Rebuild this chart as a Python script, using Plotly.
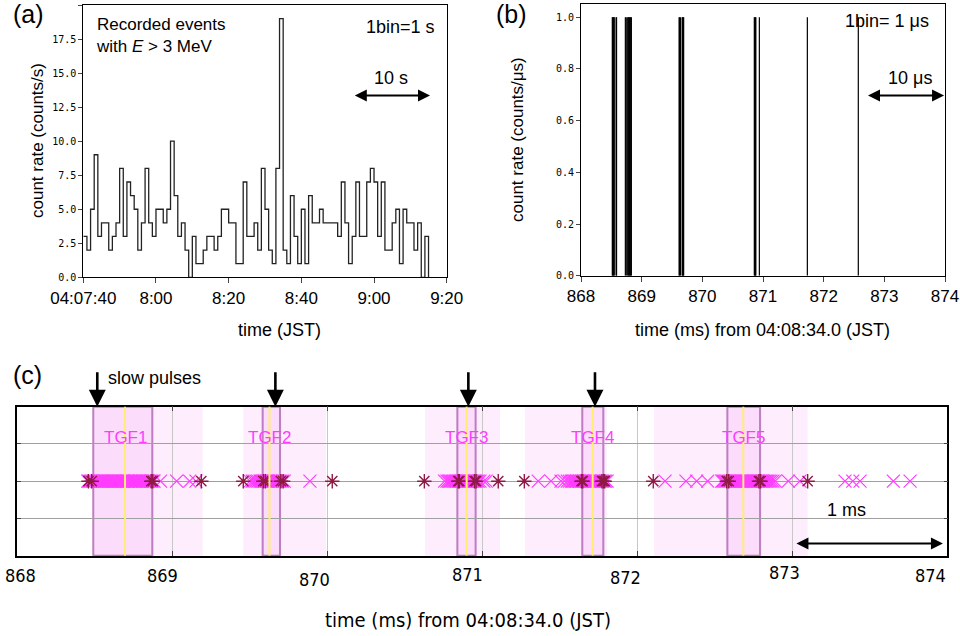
import plotly.graph_objects as go

W, H = 960, 636

# ---------------- data ----------------
# (a) 1-s bins starting at 04:07:40 (seconds offset), counts per bin
a_counts = [3, 2, 5, 9, 3, 4, 4, 2, 3, 4, 8, 3, 7, 6, 5, 2, 4, 8, 4, 3,
            5, 5, 4, 5, 10, 6, 3, 4, 2, 0, 3, 1, 1, 2, 3, 3, 2, 3, 5, 5,
            4, 4, 1, 1, 7, 3, 3, 4, 2, 8, 5, 2, 1, 8, 19, 2, 1, 6, 3, 1,
            5, 1, 6, 4, 4, 5, 4, 4, 4, 4, 3, 7, 4, 1, 3, 7, 3, 3, 7, 8,
            7, 3, 7, 2, 2, 4, 5, 1, 5, 4, 4, 2, 4, 0, 3]
a_tickvals = [0, 20, 40, 60, 80, 100]
a_ticktext = ["04:07:40", "8:00", "8:20", "8:40", "9:00", "9:20"]

# (b) 1-us bins with one count (time in ms from 04:08:34.0)
b_events = [868.516, 868.524, 868.532, 868.540, 868.548, 868.578, 868.586,
            868.731, 868.746, 868.770, 868.780, 868.790, 868.800, 868.810,
            868.820, 868.830, 869.617, 869.625, 869.640, 869.668, 869.676,
            869.684, 869.692, 870.857, 870.866, 870.874, 870.882, 870.940,
            871.731, 872.571]

# (c) recorded events (ms)
c_x_events = [
    868.455, 868.462, 868.470, 868.478, 868.487, 868.493, 868.501, 868.512,
    868.518, 868.527, 868.536, 868.541, 868.552, 868.560, 868.566, 868.577,
    868.585, 868.592, 868.603, 868.611, 868.619, 868.628, 868.634, 868.645,
    868.652, 868.661, 868.670, 868.678, 868.686, 868.693, 868.704, 868.712,
    868.719, 868.731, 868.738, 868.746, 868.757, 868.763, 868.772, 868.781,
    868.790, 868.798, 868.806, 868.817, 868.824, 868.833, 868.842, 868.850,
    868.859, 868.866, 868.875, 868.882, 868.924, 869.028, 869.112, 869.153,
    869.501, 869.516, 869.528, 869.540, 869.552, 869.566, 869.573, 869.581,
    869.590, 869.597, 869.606, 869.614, 869.622, 869.633, 869.641, 869.650,
    869.657, 869.668, 869.675, 869.684, 869.692, 869.701, 869.712, 869.722,
    869.888,
    870.757, 870.772, 870.782, 870.790, 870.797, 870.806, 870.814, 870.823,
    870.830, 870.838, 870.847, 870.855, 870.864, 870.871, 870.880, 870.889,
    870.897, 870.905, 870.914, 870.922, 870.931, 870.939, 870.948, 870.956,
    870.965, 870.974, 870.985, 871.010, 871.025,
    871.361, 871.443, 871.508, 871.530, 871.548, 871.562, 871.575, 871.585,
    871.594, 871.603, 871.611, 871.620, 871.628, 871.637, 871.646, 871.655,
    871.663, 871.672, 871.680, 871.690, 871.698, 871.707, 871.716, 871.724,
    871.733, 871.742, 871.750, 871.759, 871.768, 871.776, 871.786, 871.795,
    871.805,
    872.179, 872.314, 872.383, 872.454, 872.545, 872.553, 872.561, 872.570,
    872.578, 872.587, 872.595, 872.604, 872.612, 872.621, 872.629, 872.638,
    872.646, 872.655, 872.663, 872.672, 872.680, 872.689, 872.697, 872.706,
    872.714, 872.723, 872.731, 872.740, 872.748, 872.757, 872.765, 872.774,
    872.782, 872.791, 872.799, 872.808, 872.816, 872.825, 872.833, 872.842,
    872.851, 872.862, 872.875, 872.890, 872.974, 873.049, 873.340, 873.390,
    873.437, 873.652, 873.760]
c_star_events = [868.459, 868.480, 868.864, 868.874, 869.187,
                 869.458, 869.587, 869.600, 869.700, 869.715, 870.032,
                 870.626, 870.845, 870.852, 870.950, 870.960, 871.103,
                 871.271, 871.640, 871.648, 871.772, 871.782, 871.790,
                 872.103, 872.577, 872.590, 872.785, 872.795, 873.099]

tgf_labels = ["TGF1", "TGF2", "TGF3", "TGF4", "TGF5"]
tgf_peak = [868.695, 869.627, 870.899, 871.712, 872.684]
tgf_box_start = [868.490, 869.583, 870.839, 871.645, 872.581]
tgf_box_end = [868.871, 869.695, 870.957, 871.781, 872.792]
tgf_wide_start = [868.490, 869.458, 870.630, 871.276, 872.108]
tgf_wide_end = [869.196, 869.992, 871.114, 871.803, 873.099]
slow_pulses = [868.516, 869.665, 870.910, 871.727]

c_tickvals = [868, 869, 870, 871, 872, 873, 874]
c_ticktext = ["868", "869", "870", "871", "872", "873", "874"]

# ---------------- style ----------------
FONT = "Liberation Sans, Arial, Helvetica, sans-serif"
NARROW = "DejaVu Sans Condensed, sans-serif"
SMALL = "DejaVu Sans Mono, monospace"
MAG = "#ff3cff"
DARK = "#8e1a44"
c_label_xshift = [3, -10, -13, -15, -12, -8, -17]
c_label_yshift = [0, 0, -4, 1, -2, 3, 0]


def px(xp):
    return xp / W


def py(yp):
    return 1 - yp / H


fig = go.Figure()

# (a) histogram as step line
a_x = list(range(len(a_counts) + 1))
a_y = a_counts + [0]
fig.add_trace(go.Scatter(x=a_x, y=a_y, mode="lines", line_shape="hv",
                         line=dict(color="#222", width=1.3),
                         xaxis="x", yaxis="y", showlegend=False,
                         hoverinfo="skip"))

# (b) vertical one-count bins
bx, by = [], []
for t in b_events:
    bx += [t, t, None]
    by += [0, 1, None]
fig.add_trace(go.Scatter(x=bx, y=by, mode="lines",
                         line=dict(color="black", width=1.2),
                         xaxis="x2", yaxis="y2", showlegend=False,
                         hoverinfo="skip"))

# (c) events
fig.add_trace(go.Scatter(x=c_x_events, y=[0] * len(c_x_events), mode="markers",
                         marker=dict(symbol="x-thin-open", size=13, color=MAG,
                                     line=dict(width=1.2, color=MAG)),
                         xaxis="x3", yaxis="y3", showlegend=False,
                         hoverinfo="skip"))
fig.add_trace(go.Scatter(x=c_star_events, y=[0] * len(c_star_events),
                         mode="markers",
                         marker=dict(symbol="asterisk-open", size=12, color=DARK,
                                     line=dict(width=1.4, color=DARK)),
                         xaxis="x3", yaxis="y3", showlegend=False,
                         hoverinfo="skip"))

shapes = []
for s, e in zip(tgf_wide_start, tgf_wide_end):
    shapes.append(dict(type="rect", xref="x3", yref="y3 domain", x0=s, x1=e,
                       y0=0, y1=1, fillcolor="#fdedfd", line=dict(width=0),
                       layer="below"))
for s, e in zip(tgf_box_start, tgf_box_end):
    shapes.append(dict(type="rect", xref="x3", yref="y3 domain", x0=s, x1=e,
                       y0=0, y1=1, fillcolor="#fbdcfb",
                       line=dict(width=2, color="rgba(170,90,175,0.75)"),
                       layer="below"))
for p in tgf_peak:
    shapes.append(dict(type="line", xref="x3", yref="y3 domain", x0=p, x1=p,
                       y0=0, y1=1, line=dict(width=2, color="#ffee70"),
                       layer="above"))

ann = []


def text(t, x, y, size=18, xanchor="center", yanchor="middle", color="black",
         font=FONT, **kw):
    ann.append(dict(text=t, x=px(x), y=py(y), xref="paper", yref="paper",
                    showarrow=False, xanchor=xanchor, yanchor=yanchor,
                    font=dict(size=size, color=color, family=font), **kw))


text("(a)", 11, 14, size=25, xanchor="left")
text("(b)", 494, 14, size=25, xanchor="left")
text("(c)", 11, 375, size=25, xanchor="left")

text("Recorded events<br>with <i>E</i> > 3 MeV", 94, 13, size=17,
     xanchor="left", yanchor="top", align="left")
text("1bin=1 s", 437, 27, size=18, xanchor="right")
text("10 s", 391, 78, size=18)
text("1bin= 1 μs", 931, 21, size=18, xanchor="right")
text("10 μs", 910, 78, size=18)
text("slow pulses", 106, 378, size=18, xanchor="left")
text("1 ms", 846, 510, size=18)

text("count rate (counts/s)", 37, 141, size=17, textangle=-90)
text("time (JST)", 279, 330, size=18)
text("count rate (counts/μs)", 518, 140, size=17, textangle=-90)
text("time (ms) from 04:08:34.0 (JST)", 762, 330, size=18)
text("time (ms) from 04:08:34.0 (JST)", 468, 620, size=20, font=NARROW)

# panel (c) tick labels (hand-placed in the original figure)
for v, t, dx, dy in zip(c_tickvals, c_ticktext, c_label_xshift, c_label_yshift):
    ann.append(dict(x=v, y=0, xref="x3", yref="y3 domain", text=t,
                    showarrow=False, xanchor="center", yanchor="middle",
                    xshift=dx, yshift=-20 + dy,
                    font=dict(size=18, family=NARROW, color="black")))

# double-headed scale arrows
ann.append(dict(x=95.4, y=13.35, ax=74.3, ay=13.35, xref="x", yref="y",
                axref="x", ayref="y", text="", showarrow=True,
                arrowhead=2, startarrowhead=2, arrowside="end+start",
                arrowwidth=2, arrowsize=1.2, arrowcolor="black"))
ann.append(dict(x=873.985, y=0.697, ax=872.706, ay=0.697, xref="x2", yref="y2",
                axref="x2", ayref="y2", text="", showarrow=True,
                arrowhead=2, startarrowhead=2, arrowside="end+start",
                arrowwidth=2, arrowsize=1.2, arrowcolor="black"))
ann.append(dict(x=873.972, y=-1.67, ax=873.017, ay=-1.67, xref="x3", yref="y3",
                axref="x3", ayref="y3", text="", showarrow=True,
                arrowhead=2, startarrowhead=2, arrowside="end+start",
                arrowwidth=2, arrowsize=1.2, arrowcolor="black"))

# slow pulse arrows
for t in slow_pulses:
    ann.append(dict(x=t, y=1, xref="x3", yref="y3 domain", text="",
                    showarrow=True, ax=0, ay=-36, arrowhead=2, arrowsize=1.3,
                    arrowwidth=2.6, arrowcolor="black", standoff=0))

# TGF labels
for lab, p in zip(tgf_labels, tgf_peak):
    ann.append(dict(x=p, y=0.87, xref="x3", yref="y3 domain", text=lab,
                    showarrow=False, font=dict(size=17, color=MAG, family=FONT)))

ax_common = dict(showline=True, linecolor="black", linewidth=1, mirror=True,
                 zeroline=False, showgrid=False, automargin=False)

fig.update_layout(
    width=W, height=H, margin=dict(l=0, r=0, t=0, b=0, autoexpand=False),
    paper_bgcolor="white", plot_bgcolor="white", showlegend=False,
    xaxis=dict(domain=[px(83.3), px(446.7)], range=[0, 100],
               tickvals=a_tickvals, ticktext=a_ticktext, ticks="outside",
               ticklen=5, tickfont=dict(size=17, family=FONT, color="black"),
               ticklabeloverflow="allow",
               anchor="y", **ax_common),
    yaxis=dict(domain=[py(277.3), py(5)], range=[0, 20],
               tick0=0, dtick=2.5, tickformat=".1f", ticks="outside", ticklen=4,
               tickfont=dict(size=10, family=SMALL, color="black"),
               anchor="x", **ax_common),
    xaxis2=dict(domain=[px(581), px(945)], range=[868, 874], dtick=1,
                ticks="outside", ticklen=5, ticklabeloverflow="allow",
                tickfont=dict(size=17, family=FONT, color="black"),
                anchor="y2", **ax_common),
    yaxis2=dict(domain=[py(275.7), py(4.3)], range=[0, 1.05], tick0=0,
                dtick=0.2, tickformat=".1f", ticks="outside", ticklen=4,
                tickfont=dict(size=10, family=SMALL, color="black"),
                anchor="x2", **ax_common),
    xaxis3=dict(domain=[px(17.3), px(947.3)], range=[868, 874],
                tickvals=c_tickvals, showticklabels=False, ticks="inside",
                ticklen=5, tickcolor="#444", showline=True, linecolor="black",
                linewidth=1.5, mirror="ticks", zeroline=False,
                showgrid=True, gridcolor="#c8c8c8", gridwidth=1,
                automargin=False, anchor="y3"),
    yaxis3=dict(domain=[py(555.7), py(406.7)], range=[-2, 2],
                tickvals=[-1, 0, 1], showticklabels=False, ticks="inside",
                ticklen=4, tickcolor="#444", showline=True, linecolor="black",
                linewidth=1.5, mirror="ticks", zeroline=False, showgrid=True,
                gridcolor="#a0a0a0", gridwidth=1, anchor="x3",
                automargin=False),
    shapes=shapes, annotations=ann,
)

fig.write_html("out.html", config={"displayModeBar": False},
               post_script="document.body.style.margin='0';"
                           "document.body.style.padding='0';")
